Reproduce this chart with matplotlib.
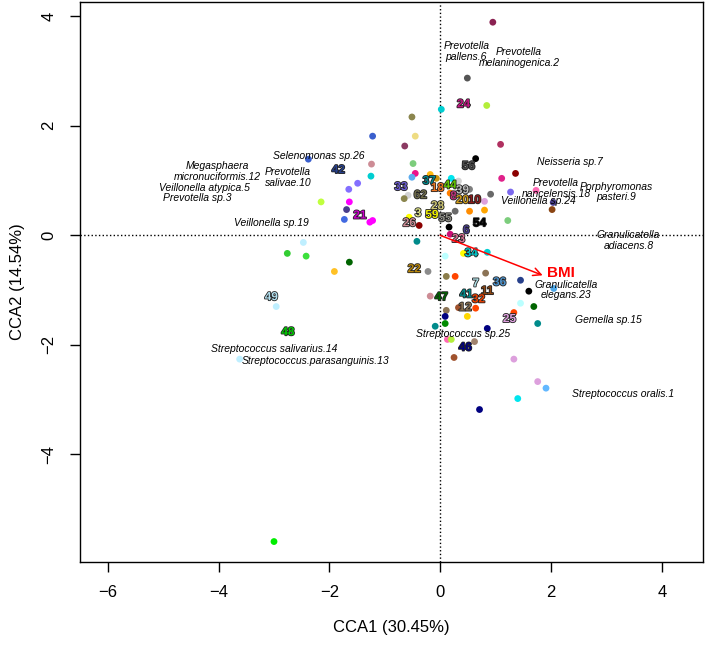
import matplotlib
matplotlib.use('Agg')
import matplotlib.pyplot as plt
import matplotlib.patheffects as pe

plt.rcParams['font.family'] = ['Liberation Sans', 'DejaVu Sans']

# site points (CCA scores)
dot_x = [0.95, 0.49, 0.02, 0.84, -0.51, -1.22, -0.45, -0.64, 1.09, 0.64,
         1.36, 1.11, -0.49, -0.45, -0.51, -0.18, -0.07, 0.20, 0.33, 0.53,
         0.18, 0.91, 1.27, 0.80, -0.58, -0.65, -0.38, -0.56, 0.27, 0.53,
         0.80, 0.16, 1.22, 0.18, -0.42, 0.42, 0.85, 0.09, -0.22, 0.11,
         0.27, 0.82, 1.45, 1.60, 2.05, 1.45, 1.69, -0.18, 0.33, 0.64,
         0.11, 0.09, 0.49, 0.09, -0.09, 0.85, 1.33, 1.76, 0.13, 0.20,
         0.62, 0.25, 1.33, 1.76, 1.91, 1.40, 0.71, 1.73, 2.04, 2.02,
         -2.38, -1.24, -1.25, -1.49, -1.65, -2.15, -1.64, -1.69, -1.73, -1.27,
         -1.22, -2.47, -2.76, -2.42, -1.64, -1.91, -2.96, -3.62, -3.00]
dot_y = [3.89, 2.87, 2.30, 2.37, 2.16, 1.81, 1.81, 1.63, 1.66, 1.40,
         1.13, 1.04, 1.31, 1.13, 1.06, 1.11, 1.04, 1.04, 0.99, 0.84,
         0.77, 0.75, 0.79, 0.62, 0.73, 0.67, 0.18, 0.33, 0.44, 0.44,
         0.46, 0.15, 0.27, 0.02, -0.11, -0.33, -0.31, -0.38, -0.66, -0.75,
         -0.75, -0.69, -0.82, -1.02, -0.97, -1.24, -1.30, -1.11, -1.32, -1.33,
         -1.37, -1.48, -1.48, -1.61, -1.66, -1.70, -1.41, -1.61, -1.90, -1.90,
         -1.94, -2.23, -2.26, -2.67, -2.79, -2.98, -3.18, 0.82, 0.60, 0.47,
         1.39, 1.30, 1.08, 0.95, 0.84, 0.61, 0.61, 0.47, 0.29, 0.24,
         0.27, -0.13, -0.33, -0.38, -0.49, -0.66, -1.30, -2.26, -5.59]
dot_col = ['#8B2252', '#555555', '#00CED1', '#B3EE3A', '#8B864E', '#3A5FCD', '#EEDC82', '#8B3A62', '#B03060', '#000000',
           '#8B0000', '#E0218A', '#7CCD7C', '#EE1289', '#5CACEE', '#FFB90F', '#CD950C', '#00E5EE', '#D3D3D3', '#7F7F7F',
           '#FF7F00', '#696969', '#7B68EE', '#DDA0DD', '#D3D3D3', '#8B864E', '#8B0000', '#FFFF00', '#696969', '#FF8C00',
           '#FFA500', '#000000', '#7CCD7C', '#CD1076', '#008B8B', '#FFFF00', '#00CED1', '#BBFFFF', '#8B8B8B', '#8B7D4B',
           '#FF4500', '#8B7355', '#27408B', '#000000', '#4FA8E8', '#BBFFFF', '#006400', '#CD8C95', '#A0522D', '#FF4500',
           '#8B7355', '#000080', '#FFD700', '#008B00', '#008B8B', '#000080', '#FF4500', '#008B8B', '#FF69B4', '#B3EE3A',
           '#A0826D', '#A0522D', '#DDA0DD', '#DDA0DD', '#63B8FF', '#00E5EE', '#000080', '#FF69B4', '#483D8B', '#8B4513',
           '#3A5FCD', '#CD8C95', '#00CED1', '#836FFF', '#836FFF', '#C0FF3E', '#FF00FF', '#483D8B', '#4169E1', '#FF00FF',
           '#FF00FF', '#BFEFFF', '#32CD32', '#3CE03C', '#006400', '#FFC125', '#BFEFFF', '#BFEFFF', '#00EE00']

# numbered site labels
site_lab = ['24', '56', '37', '18', '44', '39', '8', '20', '10', '33',
            '62', '28', '3', '59', '55', '26', '54', '6', '23', '34',
            '22', '7', '36', '11', '41', '32', '47', '12', '25', '46',
            '42', '21', '49', '48']
site_x = [0.42, 0.51, -0.20, -0.05, 0.18, 0.40, 0.24, 0.40, 0.62, -0.71,
          -0.36, -0.05, -0.40, -0.15, 0.09, -0.56, 0.71, 0.47, 0.33, 0.56,
          -0.47, 0.64, 1.07, 0.85, 0.47, 0.69, 0.02, 0.45, 1.25, 0.45,
          -1.84, -1.45, -3.05, -2.75]
site_y = [2.39, 1.26, 0.99, 0.86, 0.91, 0.82, 0.71, 0.64, 0.64, 0.88,
          0.73, 0.53, 0.40, 0.37, 0.31, 0.22, 0.22, 0.09, -0.07, -0.33,
          -0.62, -0.88, -0.86, -1.02, -1.08, -1.17, -1.13, -1.32, -1.53, -2.05,
          1.19, 0.36, -1.13, -1.77]
site_col = ['#C71585', '#4D4D4D', '#00868B', '#EE7621', '#66CD00', '#BEBEBE', '#C0307A', '#CD9B1D', '#8B1A1A', '#6A5ACD',
            '#6E6B4A', '#CDC673', '#DEE38A', '#EEEE00', '#8B8B83', '#CD8C95', '#000000', '#483D8B', '#DB7093', '#00CED1',
            '#B8860B', '#B0E0E6', '#4F94CD', '#8B4513', '#008B8B', '#EE4000', '#006400', '#8B7355', '#DDA0DD', '#000080',
            '#27408B', '#CD00CD', '#B2DFEE', '#00CD00']

# species labels
sp_lab = ['Prevotella\npallens.6', 'Prevotella\nmelaninogenica.2', 'Neisseria sp.7',
          'Prevotella\nnancelensis.18', 'Porphyromonas\npasteri.9', 'Veillonella sp.24',
          'Granulicatella\nadiacens.8', 'Granulicatella\nelegans.23', 'Gemella sp.15',
          'Streptococcus oralis.1', 'Streptococcus sp.25', 'Streptococcus salivarius.14',
          'Streptococcus.parasanguinis.13', 'Selenomonas sp.26', 'Prevotella\nsalivae.10',
          'Megasphaera\nmicronuciformis.12', 'Veillonella atypica.5', 'Prevotella sp.3',
          'Veillonella sp.19']
sp_x = [0.47, 1.42, 2.34, 2.09, 3.18, 1.78, 3.40, 2.27, 3.04, 3.31,
        0.42, -3.00, -2.25, -2.20, -2.75, -4.02, -4.25, -4.38, -3.05]
sp_y = [3.35, 3.25, 1.33, 0.86, 0.79, 0.62, -0.09, -1.00, -1.54, -2.90,
        -1.81, -2.07, -2.30, 1.44, 1.06, 1.17, 0.86, 0.68, 0.22]

# environmental vector
bmi_x, bmi_y = 1.85, -0.73

fig = plt.figure(figsize=(7.09, 6.48), dpi=100)
ax = fig.add_axes([0.113, 0.133, 0.879, 0.864])

ax.axhline(0, color='black', linestyle=':', linewidth=1, zorder=1)
ax.axvline(0, color='black', linestyle=':', linewidth=1, zorder=1)

ax.scatter(dot_x, dot_y, s=24, c=dot_col, linewidths=0, zorder=2)

for t, x, y in zip(sp_lab, sp_x, sp_y):
    ax.text(x, y, t, fontsize=7.5, style='italic', ha='center', va='center',
            linespacing=1.1, zorder=3)

for t, x, y, c in zip(site_lab, site_x, site_y, site_col):
    ax.text(x, y, t, fontsize=8.5, fontweight='bold', color=c, ha='center', va='center',
            zorder=4, path_effects=[pe.withStroke(linewidth=1.2, foreground='#222222')])

ax.annotate('', xy=(bmi_x, bmi_y), xytext=(0, 0),
            arrowprops=dict(arrowstyle='->', color='red', lw=1.1,
                            mutation_scale=14, shrinkA=0, shrinkB=0), zorder=5)
ax.text(bmi_x * 1.18, bmi_y * 0.93, 'BMI', color='red', fontsize=11, fontweight='bold',
        ha='center', va='center', zorder=5)

ax.set_xlim(-6.5, 4.75)
ax.set_ylim(-5.96, 4.26)
ax.set_xticks([-6, -4, -2, 0, 2, 4])
ax.set_yticks([-4, -2, 0, 2, 4])
ax.tick_params(direction='out', length=7, width=1, labelsize=12, pad=10)
for lb in ax.get_yticklabels():
    lb.set_rotation(90)
    lb.set_va('center')
ax.set_xlabel('CCA1 (30.45%)', fontsize=12, labelpad=14)
ax.set_ylabel('CCA2 (14.54%)', fontsize=12, labelpad=12)
for s in ax.spines.values():
    s.set_linewidth(1)

fig.savefig('out.png', dpi=100)
